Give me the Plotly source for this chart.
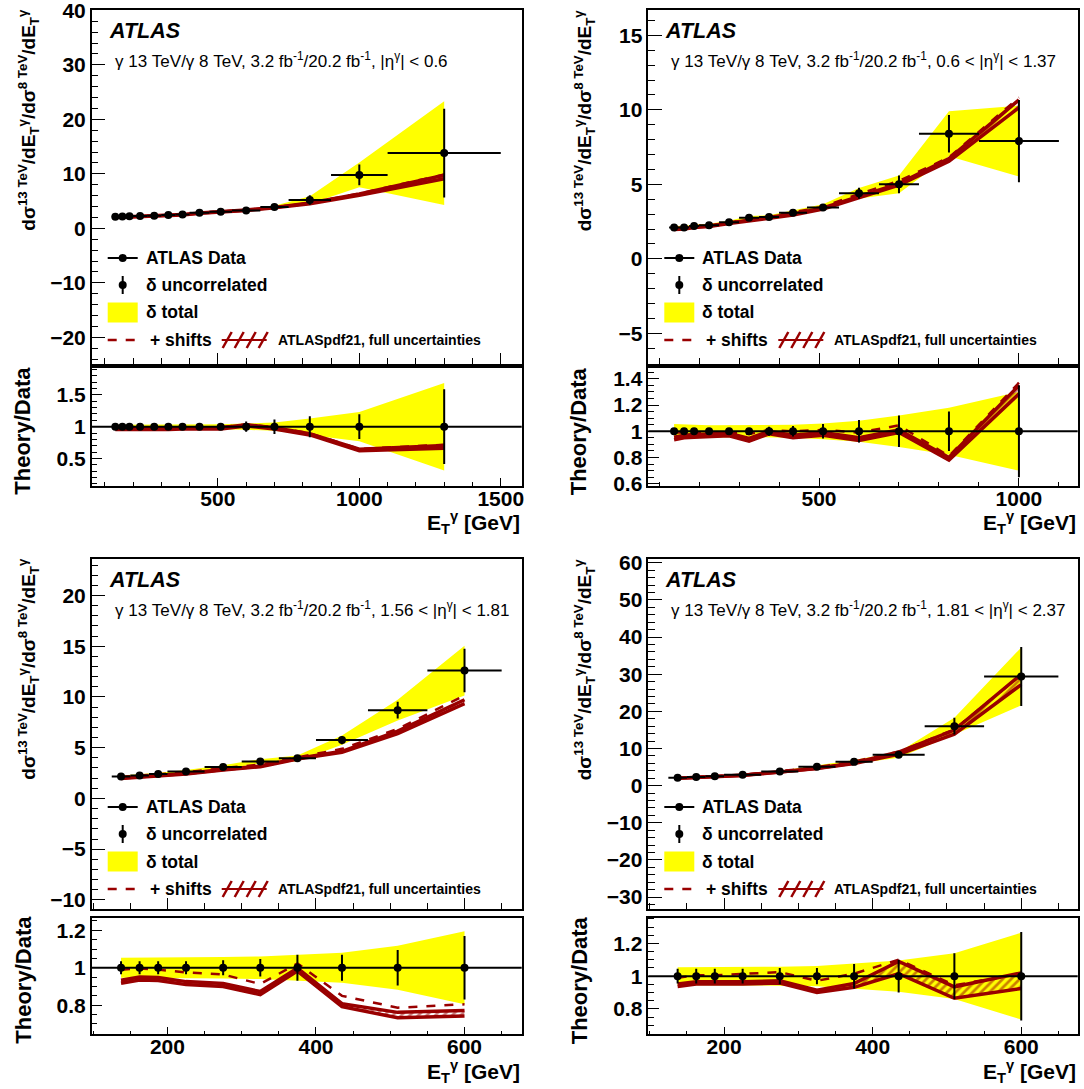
import plotly.graph_objects as go

W, H = 1084, 1089
FONT = "Liberation Sans, Arial, Helvetica, sans-serif"
DARKRED = "#990000"
YELLOW = "#ffff00"

# ---------------- data ----------------
bin_lo = [125, 150, 175, 200, 250, 300, 350, 400, 470, 550, 650, 750, 900, 1100]
bin_hi = [150, 175, 200, 250, 300, 350, 400, 470, 550, 650, 750, 900, 1100, 1500]
bin_c = [137.5, 162.5, 187.5, 225, 275, 325, 375, 435, 510, 600, 700, 825, 1000, 1300]

# |eta| < 0.6
data_p1 = [2.1, 2.15, 2.2, 2.25, 2.3, 2.45, 2.55, 2.85, 3.05, 3.25, 3.9, 5.2, 9.8, 13.8]
unc_p1 = [0.015, 0.015, 0.015, 0.02, 0.02, 0.02, 0.025, 0.03, 0.04, 0.08, 0.115, 0.165, 0.195, 0.59]
tot_p1 = [0.03, 0.03, 0.03, 0.03, 0.03, 0.03, 0.03, 0.035, 0.04, 0.05, 0.065, 0.13, 0.23, 0.69]
thlo_p1 = [0.955, 0.955, 0.95, 0.95, 0.95, 0.955, 0.965, 0.965, 0.965, 1.01, 0.965, 0.87, 0.62, 0.66]
thhi_p1 = [0.975, 0.975, 0.97, 0.97, 0.97, 0.975, 0.985, 0.985, 0.985, 1.03, 0.985, 0.89, 0.645, 0.705]
shift_p1 = [0.98, 0.98, 0.975, 0.975, 0.975, 0.98, 0.99, 0.99, 0.99, 1.035, 0.99, 0.895, 0.65, 0.715]

# 0.6 < |eta| < 1.37
data_p2 = [2.1, 2.1, 2.2, 2.25, 2.45, 2.75, 2.8, 3.1, 3.45, 4.4, 5.0, 8.4, 7.9]
unc_p2 = [0.02, 0.02, 0.02, 0.02, 0.02, 0.025, 0.035, 0.04, 0.055, 0.085, 0.12, 0.15, 0.35]
tot_p2 = [0.055, 0.05, 0.05, 0.045, 0.045, 0.045, 0.045, 0.05, 0.06, 0.08, 0.12, 0.18, 0.30]
thlo_p2 = [0.935, 0.95, 0.955, 0.96, 0.965, 0.925, 0.98, 0.95, 0.97, 0.93, 0.99, 0.78, 1.285]
thhi_p2 = [0.955, 0.97, 0.975, 0.98, 0.985, 0.945, 1.0, 0.97, 0.99, 0.95, 1.01, 0.80, 1.35]
shift_p2 = [0.99, 0.99, 0.99, 0.99, 0.99, 0.98, 1.01, 1.0, 1.01, 0.99, 1.045, 0.81, 1.37]

# 1.56 < |eta| < 1.81
data_p3 = [2.15, 2.25, 2.4, 2.65, 3.1, 3.65, 3.95, 5.75, 8.7, 12.6]
unc_p3 = [0.035, 0.035, 0.035, 0.035, 0.04, 0.047, 0.07, 0.07, 0.095, 0.17]
tot_p3 = [0.053, 0.053, 0.055, 0.055, 0.057, 0.06, 0.07, 0.08, 0.118, 0.195]
thlo_p3 = [0.917, 0.935, 0.932, 0.91, 0.9, 0.857, 0.982, 0.792, 0.733, 0.742]
thhi_p3 = [0.933, 0.951, 0.948, 0.926, 0.916, 0.873, 0.998, 0.808, 0.762, 0.772]
shift_p3 = [0.99, 0.996, 0.99, 0.975, 0.964, 0.913, 1.023, 0.85, 0.787, 0.805]

# 1.81 < |eta| < 2.37
data_p4 = [2.1, 2.3, 2.5, 2.9, 3.8, 5.1, 6.4, 8.3, 16.0, 29.4]
unc_p4 = [0.045, 0.045, 0.045, 0.045, 0.05, 0.05, 0.075, 0.1, 0.14, 0.27]
tot_p4 = [0.055, 0.055, 0.055, 0.055, 0.058, 0.062, 0.078, 0.095, 0.14, 0.265]
thlo_p4 = [0.937, 0.952, 0.952, 0.952, 0.958, 0.9, 0.932, 1.015, 0.865, 0.925]
thhi_p4 = [0.952, 0.966, 0.966, 0.966, 0.972, 0.914, 0.955, 1.09, 0.935, 1.02]
shift_p4 = [0.99, 1.005, 1.005, 1.012, 1.025, 0.972, 1.015, 1.1, 0.945, 1.015]

eta_labels = [
    "|η<sup>γ</sup>| &lt; 0.6",
    "0.6 &lt; |η<sup>γ</sup>| &lt; 1.37",
    "1.56 &lt; |η<sup>γ</sup>| &lt; 1.81",
    "1.81 &lt; |η<sup>γ</sup>| &lt; 2.37",
]
sub_prefix = "γ 13 TeV/γ 8 TeV, 3.2 fb<sup>-1</sup>/20.2 fb<sup>-1</sup>, "

# ---------------- layout geometry (pixels) ----------------
panels = [
    dict(data=data_p1, unc=unc_p1, tot=tot_p1, lo=thlo_p1, hi=thhi_p1, sh=shift_p1,
         L=91.7, R=521.7, T=10, B=364, rT=368.3, rB=485.7,
         xr=[54, 1574], xdt=500, xmn=100, yr=[-24.9, 40.06], ydt=10, ymn=2,
         rr=[0.07, 1.92], rdt=0.5, rmn=0.1),
    dict(data=data_p2, unc=unc_p2, tot=tot_p2, lo=thlo_p2, hi=thhi_p2, sh=shift_p2,
         L=648.3, R=1077.7, T=10, B=364, rT=368.3, rB=485.7,
         xr=[73, 1147], xdt=500, xmn=100, yr=[-7.06, 16.7], ydt=5, ymn=1,
         rr=[0.585, 1.48], rdt=0.2, rmn=0.05),
    dict(data=data_p3, unc=unc_p3, tot=tot_p3, lo=thlo_p3, hi=thhi_p3, sh=shift_p3,
         L=91.7, R=521.7, T=559, B=909, rT=917.7, rB=1034.3,
         xr=[98, 677], xdt=200, xmn=50, yr=[-10.9, 23.6], ydt=5, ymn=1,
         rr=[0.645, 1.267], rdt=0.2, rmn=0.05),
    dict(data=data_p4, unc=unc_p4, tot=tot_p4, lo=thlo_p4, hi=thhi_p4, sh=shift_p4,
         L=648.3, R=1077.7, T=559, B=909, rT=917.7, rB=1034.3,
         xr=[98, 676], xdt=200, xmn=50, yr=[-33.2, 61], ydt=10, ymn=2,
         rr=[0.645, 1.357], rdt=0.2, rmn=0.05),
]


def px(x):
    return x / W


def py(y):
    return 1 - y / H


fig = go.Figure()
shapes = []
annots = []
layout_axes = {}

tickfont = dict(family=FONT, size=21, color="black", weight="bold")
HATCH = dict(shape="/", fgcolor=DARKRED, bgcolor="rgba(0,0,0,0)", size=6, solidity=0.45)

for i, p in enumerate(panels):
    n = len(p["data"])
    xs = bin_c[:n]
    elo = [c - l for c, l in zip(xs, bin_lo[:n])]
    ehi = [h - c for c, h in zip(xs, bin_hi[:n])]
    d = p["data"]
    km = 2 * i + 1
    kr = 2 * i + 2
    xm, ym = f"x{km}", f"y{km}"
    xrr, yrr = f"x{kr}", f"y{kr}"

    # ---- main panel ----
    up = [v * (1 + t) for v, t in zip(d, p["tot"])]
    dn = [v * (1 - t) for v, t in zip(d, p["tot"])]
    fig.add_trace(go.Scatter(x=xs + xs[::-1], y=up + dn[::-1], fill="toself",
                             fillcolor=YELLOW, line=dict(width=0), mode="lines",
                             hoverinfo="skip", showlegend=False, xaxis=xm, yaxis=ym))
    tlo = [v * r for v, r in zip(d, p["lo"])]
    thi = [v * r for v, r in zip(d, p["hi"])]
    fig.add_trace(go.Scatter(x=xs + xs[::-1], y=thi + tlo[::-1], fill="toself",
                             fillcolor="rgba(0,0,0,0)", fillpattern=HATCH,
                             line=dict(width=0), mode="lines",
                             hoverinfo="skip", showlegend=False, xaxis=xm, yaxis=ym))
    for arr in (tlo, thi):
        fig.add_trace(go.Scatter(x=xs, y=arr, mode="lines", line=dict(color=DARKRED, width=3.5),
                                 showlegend=False, xaxis=xm, yaxis=ym))
    fig.add_trace(go.Scatter(x=xs, y=[v * s for v, s in zip(d, p["sh"])], mode="lines",
                             line=dict(color=DARKRED, width=2.5, dash="dash"),
                             showlegend=False, xaxis=xm, yaxis=ym))
    fig.add_trace(go.Scatter(
        x=xs, y=d, mode="markers", marker=dict(color="black", size=8),
        error_x=dict(type="data", symmetric=False, array=ehi, arrayminus=elo,
                     width=0, thickness=2, color="black"),
        error_y=dict(type="data", array=[v * u for v, u in zip(d, p["unc"])],
                     width=0, thickness=2, color="black"),
        showlegend=False, xaxis=xm, yaxis=ym))

    # ---- ratio panel ----
    rup = [1 + t for t in p["tot"]]
    rdn = [1 - t for t in p["tot"]]
    fig.add_trace(go.Scatter(x=xs + xs[::-1], y=rup + rdn[::-1], fill="toself",
                             fillcolor=YELLOW, line=dict(width=0), mode="lines",
                             hoverinfo="skip", showlegend=False, xaxis=xrr, yaxis=yrr))
    fig.add_trace(go.Scatter(x=xs + xs[::-1], y=p["hi"] + p["lo"][::-1], fill="toself",
                             fillcolor="rgba(0,0,0,0)", fillpattern=HATCH,
                             line=dict(width=0), mode="lines",
                             hoverinfo="skip", showlegend=False, xaxis=xrr, yaxis=yrr))
    for arr in (p["lo"], p["hi"]):
        fig.add_trace(go.Scatter(x=xs, y=arr, mode="lines", line=dict(color=DARKRED, width=3.5),
                                 showlegend=False, xaxis=xrr, yaxis=yrr))
    fig.add_trace(go.Scatter(x=xs, y=p["sh"], mode="lines",
                             line=dict(color=DARKRED, width=2.5, dash="dash"),
                             showlegend=False, xaxis=xrr, yaxis=yrr))
    fig.add_trace(go.Scatter(
        x=xs, y=[1.0] * n, mode="markers", marker=dict(color="black", size=8),
        error_y=dict(type="data", array=p["unc"], width=0, thickness=2, color="black"),
        showlegend=False, xaxis=xrr, yaxis=yrr))
    shapes.append(dict(type="line", xref=f"{xrr} domain", yref=yrr, x0=0, x1=1, y0=1, y1=1,
                       line=dict(color="black", width=2), layer="above"))

    # ---- axes ----
    common = dict(showline=True, mirror=True, linecolor="black", linewidth=1.5,
                  showgrid=False, zeroline=False, ticks="inside", tickcolor="black",
                  tickfont=tickfont, automargin=False, ticklabeloverflow="allow")
    layout_axes[f"xaxis{km}"] = dict(common, domain=[px(p["L"]), px(p["R"])], range=p["xr"],
                                     anchor=ym, dtick=p["xdt"], tick0=0, ticklen=11, tickwidth=1,
                                     showticklabels=False,
                                     minor=dict(dtick=p["xmn"], ticks="inside", ticklen=6,
                                                tickcolor="black", tickwidth=1))
    layout_axes[f"yaxis{km}"] = dict(common, domain=[py(p["B"]), py(p["T"])], range=p["yr"],
                                     anchor=xm, dtick=p["ydt"], tick0=0, ticklen=14, tickwidth=1,
                                     minor=dict(dtick=p["ymn"], ticks="inside", ticklen=7,
                                                tickcolor="black", tickwidth=1))
    layout_axes[f"xaxis{kr}"] = dict(common, domain=[px(p["L"]), px(p["R"])], range=p["xr"],
                                     anchor=yrr, dtick=p["xdt"], tick0=0, ticklen=8, tickwidth=1,
                                     ticklabelstandoff=-7,
                                     minor=dict(dtick=p["xmn"], ticks="inside", ticklen=4,
                                                tickcolor="black", tickwidth=1))
    layout_axes[f"yaxis{kr}"] = dict(common, domain=[py(p["rB"]), py(p["rT"])], range=p["rr"],
                                     anchor=xrr, dtick=p["rdt"], tick0=0, ticklen=11, tickwidth=1,
                                     minor=dict(dtick=p["rmn"], ticks="inside", ticklen=6,
                                                tickcolor="black", tickwidth=1))

    # ---- texts ----
    L, T, R = p["L"], p["T"], p["R"]
    annots.append(dict(x=px(L + 15), y=py(T + 21), xref="paper", yref="paper",
                       text="<i><b>ATLAS</b></i>", showarrow=False, xanchor="left", yanchor="middle",
                       font=dict(family=FONT, size=21.5, color="black")))
    annots.append(dict(x=px(L + 21), y=py(T + 50), xref="paper", yref="paper",
                       text=sub_prefix + eta_labels[i], showarrow=False, xanchor="left",
                       yanchor="middle", font=dict(family=FONT, size=17, color="black")))
    # legend
    rows = [T + 248, T + 275, T + 302.5, T + 330]
    lfont = dict(family=FONT, size=17.5, color="black", weight="bold")
    shapes.append(dict(type="line", xref="paper", yref="paper", x0=px(L + 16), x1=px(L + 46),
                       y0=py(rows[0]), y1=py(rows[0]), line=dict(color="black", width=2)))
    shapes.append(dict(type="circle", xref="paper", yref="paper", x0=px(L + 27), x1=px(L + 35),
                       y0=py(rows[0] - 4), y1=py(rows[0] + 4), fillcolor="black",
                       line=dict(color="black", width=0)))
    annots.append(dict(x=px(L + 52), y=py(rows[0]), xref="paper", yref="paper", text="ATLAS Data",
                       showarrow=False, xanchor="left", yanchor="middle", font=lfont))
    shapes.append(dict(type="line", xref="paper", yref="paper", x0=px(L + 31), x1=px(L + 31),
                       y0=py(rows[1] - 9), y1=py(rows[1] + 9), line=dict(color="black", width=2)))
    shapes.append(dict(type="circle", xref="paper", yref="paper", x0=px(L + 27), x1=px(L + 35),
                       y0=py(rows[1] - 4), y1=py(rows[1] + 4), fillcolor="black",
                       line=dict(color="black", width=0)))
    annots.append(dict(x=px(L + 52), y=py(rows[1]), xref="paper", yref="paper",
                       text="δ uncorrelated", showarrow=False, xanchor="left", yanchor="middle",
                       font=lfont))
    shapes.append(dict(type="rect", xref="paper", yref="paper", x0=px(L + 16), x1=px(L + 46),
                       y0=py(rows[2] - 10), y1=py(rows[2] + 10), fillcolor=YELLOW,
                       line=dict(width=0)))
    annots.append(dict(x=px(L + 52), y=py(rows[2]), xref="paper", yref="paper", text="δ total",
                       showarrow=False, xanchor="left", yanchor="middle", font=lfont))
    shapes.append(dict(type="line", xref="paper", yref="paper", x0=px(L + 16), x1=px(L + 46),
                       y0=py(rows[3]), y1=py(rows[3]),
                       line=dict(color=DARKRED, width=2.5, dash="dash")))
    annots.append(dict(x=px(L + 56), y=py(rows[3]), xref="paper", yref="paper", text="+ shifts",
                       showarrow=False, xanchor="left", yanchor="middle", font=lfont))
    hx0, hx1 = L + 130, L + 175
    shapes.append(dict(type="line", xref="paper", yref="paper", x0=px(hx0), x1=px(hx1),
                       y0=py(rows[3]), y1=py(rows[3]), line=dict(color=DARKRED, width=2)))
    for k in range(4):
        xa = hx0 + 1 + k * 12
        shapes.append(dict(type="line", xref="paper", yref="paper", x0=px(xa), x1=px(xa + 9),
                           y0=py(rows[3] + 8), y1=py(rows[3] - 8),
                           line=dict(color=DARKRED, width=2.5)))
    annots.append(dict(x=px(L + 184), y=py(rows[3]), xref="paper", yref="paper",
                       text="ATLASpdf21, full uncertainties", showarrow=False, xanchor="left",
                       yanchor="middle", font=dict(family=FONT, size=14, color="black", weight="bold")))
    # axis titles
    tfont = dict(family=FONT, size=19, color="black", weight="bold")
    annots.append(dict(x=px(L - 64), y=py(T + 110), xref="paper", yref="paper",
                       text="dσ<sup>13 TeV</sup>/dE<sub>T</sub><sup>γ</sup>/dσ<sup>8 TeV</sup>/dE<sub>T</sub><sup>γ</sup>",
                       textangle=-90, showarrow=False, xanchor="center", yanchor="middle",
                       font=tfont))
    annots.append(dict(x=px(L - 69), y=py((p["rT"] + p["rB"]) / 2 + 4), xref="paper", yref="paper",
                       text="Theory/Data", textangle=-90, showarrow=False, xanchor="center",
                       yanchor="middle", font=dict(tfont, size=22)))
    annots.append(dict(x=px(R), y=py(p["rB"] + 37), xref="paper", yref="paper",
                       text="E<sub>T</sub><sup>γ</sup> [GeV]", showarrow=False, xanchor="right",
                       yanchor="middle", font=dict(tfont, size=21)))

fig.update_layout(
    width=W, height=H, margin=dict(l=0, r=0, t=0, b=0, autoexpand=False),
    paper_bgcolor="white", plot_bgcolor="white",
    shapes=shapes, annotations=annots, showlegend=False,
    font=dict(family=FONT, color="black"),
    **layout_axes,
)

post = (
    "document.documentElement.style.margin='0px';"
    "document.documentElement.style.overflow='hidden';"
    "document.body.style.margin='0px';document.body.style.padding='0px';"
    "document.body.style.overflow='hidden';"
    "var gd=document.getElementById('{plot_id}');"
    "gd.style.position='absolute';gd.style.top='0px';gd.style.left='0px';"
)
fig.write_html("out.html", config={"displayModeBar": False}, post_script=post)
